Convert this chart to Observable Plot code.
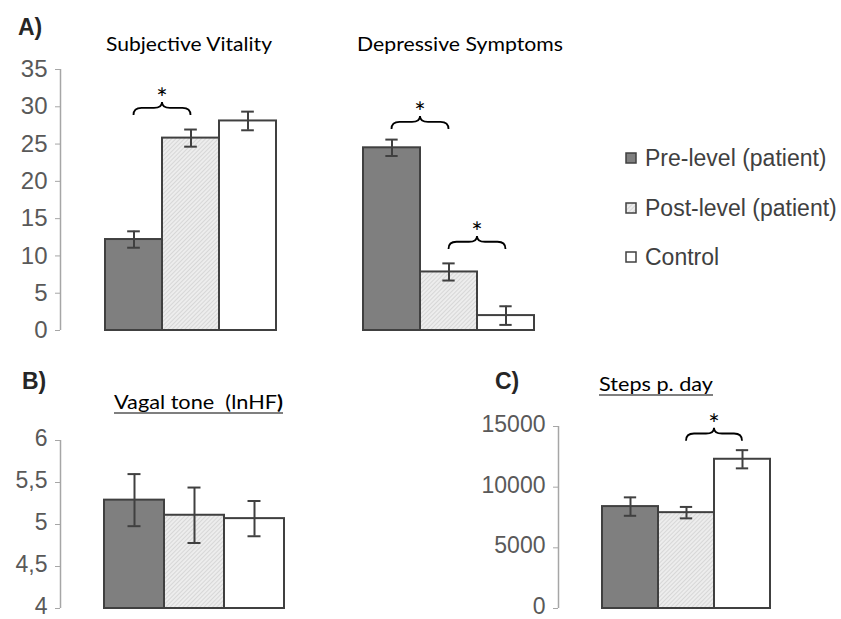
<!DOCTYPE html>
<html>
<head>
<meta charset="utf-8">
<script src="https://cdn.jsdelivr.net/npm/d3@7"></script>
<script src="https://cdn.jsdelivr.net/npm/@observablehq/plot@0.6"></script>
<style>
  html, body { margin: 0; padding: 0; background: #fff; }
  #wrap { position: relative; width: 841px; height: 619px; background: #fff; overflow: hidden; }
  #wrap > svg, #wrap > figure { position: absolute; left: 0; top: 0; margin: 0; }
</style>
</head>
<body>
<div id="wrap"></div>
<script>
// ---------- data ----------
const groups = ["Pre-level (patient)", "Post-level (patient)", "Control"];

const vitalityMean = [12.2, 25.8, 28.1];
const vitalityErr  = [1.1, 1.15, 1.25];

const depressionMean = [24.5, 7.85, 2.0];
const depressionErr  = [1.1, 1.15, 1.25];

const vagalMean = [5.29, 5.11, 5.07];
const vagalErr  = [0.31, 0.33, 0.21];

const stepsMean = [8400, 7900, 12300];
const stepsErr  = [760, 470, 750];

const scoreTicks = [0, 5, 10, 15, 20, 25, 30, 35];
const vagalTicks = [4, 4.5, 5, 5.5, 6];
const vagalTickLabels = ["4", "4,5", "5", "5,5", "6"];
const stepsTicks = [0, 5000, 10000, 15000];

// significance pairs (indices into groups)
const vitalitySig = [[0, 1]];
const depressionSig = [[0, 1], [1, 2]];
const stepsSig = [[1, 2]];

// ---------- styles ----------
const fills = ["#7f7f7f", "url(#hatch)", "#ffffff"];
const edge = "#404040";
const axisGray = "#a6a6a6";
const labelGray = "#595959";

const wrap = document.getElementById("wrap");

// shared pattern defs
const defs = d3.select(wrap).append("svg")
  .attr("width", 0).attr("height", 0)
  .style("position", "absolute");
const pat = defs.append("defs").append("pattern")
  .attr("id", "hatch").attr("patternUnits", "userSpaceOnUse")
  .attr("width", 3).attr("height", 3)
  .attr("patternTransform", "rotate(45)");
pat.append("rect").attr("width", 3).attr("height", 3).attr("fill", "#ededed");
pat.append("line").attr("x1", 0).attr("y1", 0).attr("x2", 0).attr("y2", 3)
  .attr("stroke", "#c9c9c9").attr("stroke-width", 1.2);

function rowsOf(means, errs) {
  return groups.map((g, i) => ({group: g, mean: means[i], err: errs[i]}));
}

function bw(x) {
  return typeof x.bandwidth === "function" ? x.bandwidth() : x.bandwidth;
}

function axisLine(index, scales, values, dims) {
  const y = scales.y;
  const [d0, d1] = y.domain();
  const g = d3.create("svg:line")
    .attr("x1", dims.marginLeft + 0.5).attr("x2", dims.marginLeft + 0.5)
    .attr("y1", y(d0)).attr("y2", y(d1))
    .attr("stroke", axisGray).attr("stroke-width", 1.5);
  return g.node();
}

function braces(pairs, rows, gap) {
  return (index, scales) => {
    const x = scales.x, y = scales.y, w = bw(x);
    const g = d3.create("svg:g");
    pairs.forEach(([a, b], k) => {
      const x0 = x(rows[a].group) + w / 2;
      const x1 = x(rows[b].group) + w / 2;
      const top = Math.min(y(rows[a].mean + rows[a].err), y(rows[b].mean + rows[b].err));
      const yb = top - gap[k];
      const h = 13;
      const ym = yb - h * 0.55;
      const yt = yb - h;
      const xm = (x0 + x1) / 2;
      const q = 8;
      const p = d3.path();
      p.moveTo(x0, yb);
      p.quadraticCurveTo(x0, ym, x0 + q, ym);
      p.lineTo(xm - q, ym);
      p.quadraticCurveTo(xm, ym, xm, yt);
      p.quadraticCurveTo(xm, ym, xm + q, ym);
      p.lineTo(x1 - q, ym);
      p.quadraticCurveTo(x1, ym, x1, yb);
      g.append("path").attr("d", p.toString())
        .attr("fill", "none").attr("stroke", "#000").attr("stroke-width", 1.8);
      g.append("text").attr("x", xm).attr("y", yt + 6)
        .attr("text-anchor", "middle")
        .attr("font-family", "Lato, 'Open Sans', sans-serif")
        .attr("font-size", 27).attr("fill", "#000").text("*");
    });
    return g.node();
  };
}

function panel({means, errs, xRange, yDomain, yRange, marginLeft, ticks, tickFormat, sig, gap, showAxis, fontSize, dy}) {
  const rows = rowsOf(means, errs);
  const band = (xRange[1] - xRange[0]) / groups.length;
  const capInset = (band - 13) / 2;
  const marks = [];
  if (showAxis) {
    marks.push(axisLine);
    marks.push(Plot.axisY({
      ticks, tickFormat: () => "", tickSize: 5, stroke: axisGray, label: null
    }));
    marks.push(Plot.text(ticks, {
      y: d => d, text: tickFormat, frameAnchor: "left", textAnchor: "end",
      dx: -13, dy, fontSize, fill: labelGray
    }));
  }
  marks.push(
    Plot.barY(rows, {x: "group", y1: yDomain[0], y2: "mean", fill: "group", stroke: edge, strokeWidth: 2}),
    Plot.ruleX(rows, {x: "group", y1: d => d.mean - d.err, y2: d => d.mean + d.err, stroke: edge, strokeWidth: 2}),
    Plot.tickY(rows, {x: "group", y: d => d.mean + d.err, insetLeft: capInset, insetRight: capInset, stroke: edge, strokeWidth: 2}),
    Plot.tickY(rows, {x: "group", y: d => d.mean - d.err, insetLeft: capInset, insetRight: capInset, stroke: edge, strokeWidth: 2})
  );
  if (sig) marks.push(braces(sig, rows, gap));
  const chart = Plot.plot({
    width: 841, height: 619,
    marginLeft, marginTop: 0, marginRight: 0, marginBottom: 0,
    style: {background: "transparent", overflow: "visible", fontFamily: "'Liberation Sans', Arial, sans-serif"},
    x: {domain: groups, range: xRange, padding: 0, axis: null},
    y: showAxis ? {domain: yDomain, range: yRange} : {domain: yDomain, range: yRange, axis: null},
    color: {domain: groups, range: fills},
    marks
  });
  chart.style.position = "absolute";
  chart.style.left = "0px";
  chart.style.top = "0px";
  wrap.appendChild(chart);
}

// A) Subjective Vitality
panel({means: vitalityMean, errs: vitalityErr, xRange: [104, 276], yDomain: [0, 35], yRange: [330, 69],
  marginLeft: 60, ticks: scoreTicks, tickFormat: d => String(d), sig: vitalitySig, gap: [14], showAxis: true,
  fontSize: 24, dy: 0});

// A) Depressive Symptoms
panel({means: depressionMean, errs: depressionErr, xRange: [362, 535], yDomain: [0, 35], yRange: [330, 69],
  marginLeft: 340, sig: depressionSig, gap: [10, 14], showAxis: false});

// B) Vagal tone
panel({means: vagalMean, errs: vagalErr, xRange: [104, 284], yDomain: [4, 6], yRange: [608, 440],
  marginLeft: 60, ticks: vagalTicks, tickFormat: d => vagalTickLabels[vagalTicks.indexOf(d)], showAxis: true,
  fontSize: 23, dy: -2});

// C) Steps per day
panel({means: stepsMean, errs: stepsErr, xRange: [601, 771], yDomain: [0, 15000], yRange: [608, 426],
  marginLeft: 558, ticks: stepsTicks, tickFormat: d => String(d), sig: stepsSig, gap: [9], showAxis: true,
  fontSize: 23, dy: -2});

// ---------- titles, panel letters, legend ----------
const ov = d3.select(wrap).append("svg")
  .attr("width", 841).attr("height", 619)
  .style("position", "absolute").style("left", 0).style("top", 0);

const letterFont = "'Liberation Sans', Arial, sans-serif";
[["A)", 18, 35], ["B)", 22, 389], ["C)", 495, 389]].forEach(([t, x, y]) => {
  ov.append("text").attr("x", x).attr("y", y).attr("font-family", letterFont)
    .attr("font-weight", "bold").attr("font-size", 23).attr("fill", "#262626").text(t);
});

const titleFont = "Lato, 'Open Sans', sans-serif";
function title(t, x, y, len, underline) {
  const el = ov.append("text").attr("x", x).attr("y", y)
    .attr("font-family", titleFont).attr("font-size", 19).attr("fill", "#000")
    .attr("textLength", len).attr("lengthAdjust", "spacingAndGlyphs")
    .style("white-space", "pre");
  if (Array.isArray(t)) {
    t.forEach(([s, bold]) => el.append("tspan").attr("font-weight", bold ? "bold" : null).text(s));
  } else el.text(t);
  if (underline) {
    ov.append("line").attr("x1", x).attr("x2", x + len).attr("y1", y + 4).attr("y2", y + 4)
      .attr("stroke", "#000").attr("stroke-width", 1.2);
  }
}
title("Subjective Vitality", 106, 51, 166, false);
title("Depressive Symptoms", 357, 51, 206, false);
title([["Vagal tone  (lnHF", false], [")", true]], 114, 409, 169, true);
title("Steps p. day", 599, 391, 114, true);

const legendY = [158, 208, 257];
groups.forEach((g, i) => {
  ov.append("rect").attr("x", 626).attr("y", legendY[i] - 5).attr("width", 10).attr("height", 10)
    .attr("fill", fills[i]).attr("stroke", edge).attr("stroke-width", 1.5);
  ov.append("text").attr("x", 645).attr("y", legendY[i] + 8)
    .attr("font-family", letterFont).attr("font-size", 23).attr("fill", "#404040").text(g);
});
</script>
</body>
</html>
